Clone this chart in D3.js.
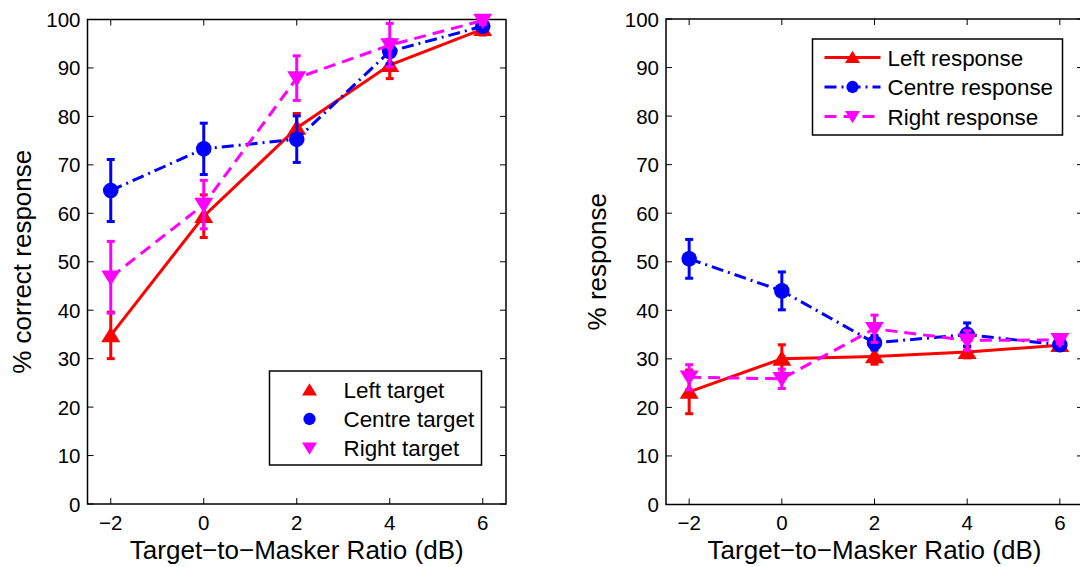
<!DOCTYPE html>
<html>
<head>
<meta charset="utf-8">
<script src="https://cdn.jsdelivr.net/npm/d3@7"></script>
<style>
  body { margin: 0; background: #fff; }
  svg text { font-family: "Liberation Sans", Arial, sans-serif; fill: #000; }
</style>
</head>
<body>
<div id="chart"></div>
<script>
// x values (dB)
var tmr = [-2, 0, 2, 4, 6];

// left panel: % correct by target position
var leftTarget = [34.8, 59.4, 77.6, 90.6, 98.0];
var leftTargetErr = [4.8, 4.4, 3.0, 2.8, 1.2];
var centreTarget = [64.7, 73.3, 75.3, 93.4, 98.6];
var centreTargetErr = [6.4, 5.3, 4.8, 2.5, 1.0];
var rightTarget = [46.8, 61.8, 87.9, 94.7, 99.8];
var rightTargetErr = [7.4, 5.0, 4.6, 4.5, 0.8];

// right panel: % of each response
var leftResp = [23.2, 30.0, 30.5, 31.4, 32.8];
var leftRespErr = [4.5, 2.9, 1.6, 1.2, 0.6];
var centreResp = [50.6, 44.0, 33.3, 35.0, 32.9];
var centreRespErr = [4.0, 3.9, 1.5, 2.4, 0.8];
var rightResp = [26.2, 25.9, 36.2, 33.8, 33.9];
var rightRespErr = [2.6, 2.0, 2.8, 2.0, 0.8];

var xTicks = [-2, 0, 2, 4, 6];
var yTicks = [0, 10, 20, 30, 40, 50, 60, 70, 80, 90, 100];

var width = 1080, height = 567;

var svg = d3.select("#chart").append("svg")
  .attr("width", width)
  .attr("height", height);

var minus = function(v) { return String(v).replace("-", "\u2212"); };

function trianglePath(up, s) {
  // s = half width
  var h = s * 0.9;
  if (up) return "M0," + (-h) + "L" + s + "," + (h * 0.8) + "L" + (-s) + "," + (h * 0.8) + "Z";
  return "M0," + h + "L" + s + "," + (-h * 0.8) + "L" + (-s) + "," + (-h * 0.8) + "Z";
}

function drawMarker(g, type, color, cx, cy, s) {
  if (type === "circle") {
    g.append("circle").attr("cx", cx).attr("cy", cy).attr("r", s * 0.82).attr("fill", color);
  } else {
    g.append("path")
      .attr("d", trianglePath(type === "up", s))
      .attr("transform", "translate(" + cx + "," + cy + ")")
      .attr("fill", color);
  }
}

function panel(opts) {
  var x = d3.scaleLinear().domain([-2.5, 6.5]).range([opts.x0, opts.x1]);
  var y = d3.scaleLinear().domain([0, 100]).range([opts.y1, opts.y0]);
  var g = svg.append("g");

  // box
  g.append("rect")
    .attr("x", opts.x0).attr("y", opts.y0)
    .attr("width", opts.x1 - opts.x0).attr("height", opts.y1 - opts.y0)
    .attr("fill", "none").attr("stroke", "#000").attr("stroke-width", 1.5);

  // ticks (inward, all four sides)
  var tl = 6;
  xTicks.forEach(function(t) {
    g.append("line").attr("x1", x(t)).attr("x2", x(t)).attr("y1", opts.y1).attr("y2", opts.y1 - tl)
      .attr("stroke", "#000").attr("stroke-width", 1);
    g.append("line").attr("x1", x(t)).attr("x2", x(t)).attr("y1", opts.y0).attr("y2", opts.y0 + tl)
      .attr("stroke", "#000").attr("stroke-width", 1);
    g.append("text").attr("x", x(t)).attr("y", 530)
      .attr("text-anchor", "middle").style("font-size", "20.5px").text(minus(t));
  });
  yTicks.forEach(function(t) {
    g.append("line").attr("x1", opts.x0).attr("x2", opts.x0 + tl).attr("y1", y(t)).attr("y2", y(t))
      .attr("stroke", "#000").attr("stroke-width", 1);
    g.append("line").attr("x1", opts.x1).attr("x2", opts.x1 - tl).attr("y1", y(t)).attr("y2", y(t))
      .attr("stroke", "#000").attr("stroke-width", 1);
    g.append("text").attr("x", opts.x0 - 7).attr("y", y(t) + 7.5)
      .attr("text-anchor", "end").style("font-size", "20.5px").text(t);
  });

  // axis labels
  g.append("text").attr("x", (opts.x0 + opts.x1) / 2).attr("y", 559)
    .attr("text-anchor", "middle").style("font-size", "26px")
    .text("Target\u2212to\u2212Masker Ratio (dB)");
  g.append("text")
    .attr("transform", "translate(" + opts.ylabX + "," + ((opts.y0 + opts.y1) / 2) + ") rotate(-90)")
    .attr("text-anchor", "middle").style("font-size", "26px")
    .text(opts.ylabel);

  var line = d3.line().x(function(d) { return x(d[0]); }).y(function(d) { return y(d[1]); });

  opts.series.forEach(function(s) {
    var pts = tmr.map(function(v, i) { return [v, s.values[i], s.err[i]]; });
    var sg = g.append("g");
    sg.append("path").datum(pts).attr("d", line)
      .attr("fill", "none").attr("stroke", s.color).attr("stroke-width", 3)
      .attr("stroke-dasharray", s.dash);
    // error bars
    pts.forEach(function(p) {
      var cx = x(p[0]);
      sg.append("line").attr("x1", cx).attr("x2", cx)
        .attr("y1", y(p[1] - p[2])).attr("y2", y(p[1] + p[2]))
        .attr("stroke", s.color).attr("stroke-width", 3);
      [p[1] - p[2], p[1] + p[2]].forEach(function(v) {
        sg.append("line").attr("x1", cx - 4).attr("x2", cx + 4)
          .attr("y1", y(v)).attr("y2", y(v))
          .attr("stroke", s.color).attr("stroke-width", 3);
      });
    });
    pts.forEach(function(p) {
      drawMarker(sg, s.marker, s.color, x(p[0]), y(p[1]), 9.5);
    });
  });

  // legend
  var L = opts.legend;
  var lg = g.append("g");
  lg.append("rect").attr("x", L.x).attr("y", L.y).attr("width", L.w).attr("height", L.h)
    .attr("fill", "#fff").attr("stroke", "#000").attr("stroke-width", 1.5);
  opts.series.forEach(function(s, i) {
    var cy = L.y + L.row0 + i * L.dy;
    if (L.lines) {
      lg.append("line").attr("x1", L.x + 12).attr("x2", L.x + 68).attr("y1", cy).attr("y2", cy)
        .attr("stroke", s.color).attr("stroke-width", 3).attr("stroke-dasharray", s.dash);
    }
    drawMarker(lg, s.marker, s.color, L.x + L.mx, cy, 7.5);
    lg.append("text").attr("x", L.x + L.tx).attr("y", cy + 8)
      .style("font-size", "22.4px").text(s.name);
  });
}

panel({
  x0: 87.5, x1: 506, y0: 19.5, y1: 504, ylabX: 31,
  ylabel: "% correct response",
  series: [
    { name: "Left target", values: leftTarget, err: leftTargetErr, color: "#ff0000", marker: "up", dash: null },
    { name: "Centre target", values: centreTarget, err: centreTargetErr, color: "#0000ff", marker: "circle", dash: "12,5,2,5" },
    { name: "Right target", values: rightTarget, err: rightTargetErr, color: "#ff00ff", marker: "down", dash: "12,7" }
  ],
  legend: { x: 269.5, y: 371, w: 212, h: 94, row0: 19, dy: 29, mx: 40, tx: 74, lines: false }
});

panel({
  x0: 666, x1: 1083, y0: 19, y1: 504.5, ylabX: 606,
  ylabel: "% response",
  series: [
    { name: "Left response", values: leftResp, err: leftRespErr, color: "#ff0000", marker: "up", dash: null },
    { name: "Centre response", values: centreResp, err: centreRespErr, color: "#0000ff", marker: "circle", dash: "12,5,2,5" },
    { name: "Right response", values: rightResp, err: rightRespErr, color: "#ff00ff", marker: "down", dash: "12,7" }
  ],
  legend: { x: 812.5, y: 39, w: 250, h: 96, row0: 18.5, dy: 29.5, mx: 40, tx: 75, lines: true }
});
</script>
</body>
</html>
